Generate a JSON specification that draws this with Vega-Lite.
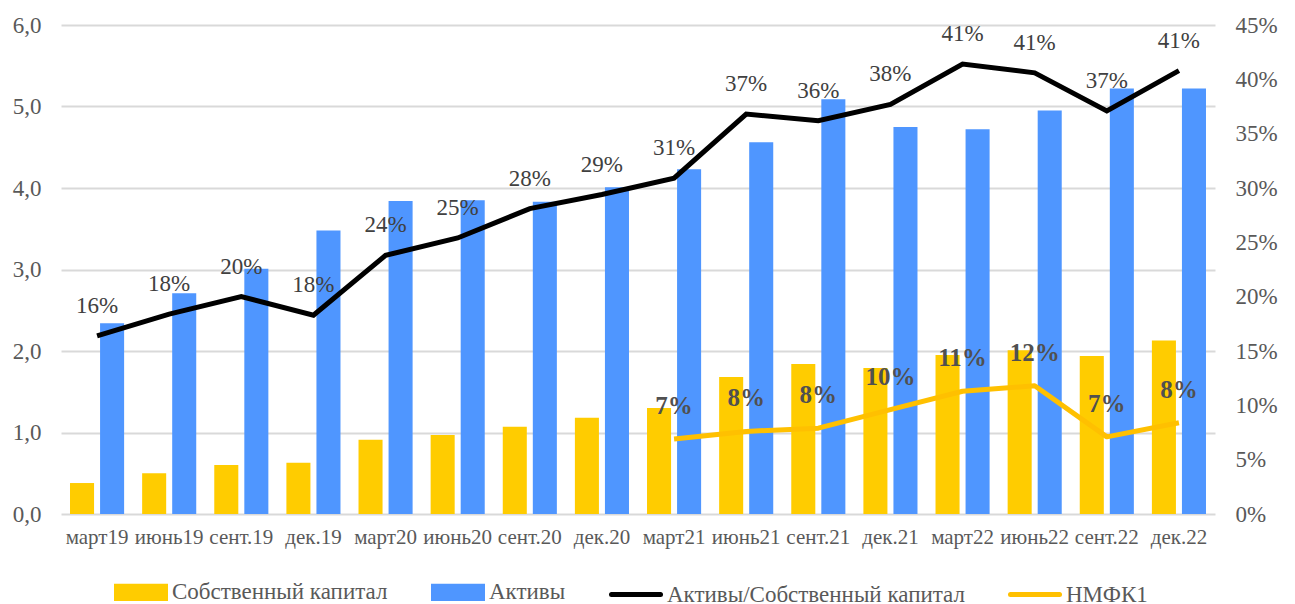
{
  "$schema": "https://vega.github.io/schema/vega-lite/v6.json",
  "width": 1154,
  "height": 489,
  "autosize": "none",
  "padding": {"left": 61, "top": 25, "right": 80, "bottom": 90},
  "config": {
    "font": "Liberation Serif, Times New Roman, DejaVu Serif, serif",
    "view": {"stroke": null},
    "text": {"font": "Liberation Serif, Times New Roman, DejaVu Serif, serif"},
    "axis": {"labelColor": "#595959", "labelFont": "Liberation Serif, Times New Roman, DejaVu Serif, serif", "ticks": false, "domain": false, "title": null},
    "legend": {"labelFont": "Liberation Serif, Times New Roman, DejaVu Serif, serif"}
  },
  "datasets": {
    "bars": [
      {"period": "март19", "series": "Собственный капитал", "value": 0.38},
      {"period": "март19", "series": "Активы", "value": 2.34},
      {"period": "июнь19", "series": "Собственный капитал", "value": 0.50},
      {"period": "июнь19", "series": "Активы", "value": 2.71},
      {"period": "сент.19", "series": "Собственный капитал", "value": 0.60},
      {"period": "сент.19", "series": "Активы", "value": 3.01},
      {"period": "дек.19", "series": "Собственный капитал", "value": 0.63},
      {"period": "дек.19", "series": "Активы", "value": 3.48},
      {"period": "март20", "series": "Собственный капитал", "value": 0.91},
      {"period": "март20", "series": "Активы", "value": 3.84},
      {"period": "июнь20", "series": "Собственный капитал", "value": 0.97},
      {"period": "июнь20", "series": "Активы", "value": 3.85},
      {"period": "сент.20", "series": "Собственный капитал", "value": 1.07},
      {"period": "сент.20", "series": "Активы", "value": 3.83},
      {"period": "дек.20", "series": "Собственный капитал", "value": 1.18},
      {"period": "дек.20", "series": "Активы", "value": 4.01},
      {"period": "март21", "series": "Собственный капитал", "value": 1.30},
      {"period": "март21", "series": "Активы", "value": 4.23},
      {"period": "июнь21", "series": "Собственный капитал", "value": 1.68},
      {"period": "июнь21", "series": "Активы", "value": 4.56},
      {"period": "сент.21", "series": "Собственный капитал", "value": 1.84},
      {"period": "сент.21", "series": "Активы", "value": 5.09},
      {"period": "дек.21", "series": "Собственный капитал", "value": 1.79},
      {"period": "дек.21", "series": "Активы", "value": 4.75},
      {"period": "март22", "series": "Собственный капитал", "value": 1.95},
      {"period": "март22", "series": "Активы", "value": 4.72},
      {"period": "июнь22", "series": "Собственный капитал", "value": 2.01},
      {"period": "июнь22", "series": "Активы", "value": 4.95},
      {"period": "сент.22", "series": "Собственный капитал", "value": 1.94},
      {"period": "сент.22", "series": "Активы", "value": 5.22},
      {"period": "дек.22", "series": "Собственный капитал", "value": 2.13},
      {"period": "дек.22", "series": "Активы", "value": 5.22}
    ],
    "ratio": [
      {"period": "март19", "series": "Активы/Собственный капитал", "value": 0.164},
      {"period": "июнь19", "series": "Активы/Собственный капитал", "value": 0.184},
      {"period": "сент.19", "series": "Активы/Собственный капитал", "value": 0.200},
      {"period": "дек.19", "series": "Активы/Собственный капитал", "value": 0.183},
      {"period": "март20", "series": "Активы/Собственный капитал", "value": 0.238},
      {"period": "июнь20", "series": "Активы/Собственный капитал", "value": 0.254},
      {"period": "сент.20", "series": "Активы/Собственный капитал", "value": 0.281},
      {"period": "дек.20", "series": "Активы/Собственный капитал", "value": 0.294},
      {"period": "март21", "series": "Активы/Собственный капитал", "value": 0.309},
      {"period": "июнь21", "series": "Активы/Собственный капитал", "value": 0.368},
      {"period": "сент.21", "series": "Активы/Собственный капитал", "value": 0.362},
      {"period": "дек.21", "series": "Активы/Собственный капитал", "value": 0.377},
      {"period": "март22", "series": "Активы/Собственный капитал", "value": 0.414},
      {"period": "июнь22", "series": "Активы/Собственный капитал", "value": 0.406},
      {"period": "сент.22", "series": "Активы/Собственный капитал", "value": 0.371},
      {"period": "дек.22", "series": "Активы/Собственный капитал", "value": 0.408}
    ],
    "nmfk": [
      {"period": "март21", "series": "НМФК1", "value": 0.069},
      {"period": "июнь21", "series": "НМФК1", "value": 0.076},
      {"period": "сент.21", "series": "НМФК1", "value": 0.079},
      {"period": "дек.21", "series": "НМФК1", "value": 0.096},
      {"period": "март22", "series": "НМФК1", "value": 0.113},
      {"period": "июнь22", "series": "НМФК1", "value": 0.118},
      {"period": "сент.22", "series": "НМФК1", "value": 0.071},
      {"period": "дек.22", "series": "НМФК1", "value": 0.084}
    ]
  },
  "encoding": {
    "x": {
      "field": "period",
      "type": "nominal",
      "scale": {
        "domain": ["март19","июнь19","сент.19","дек.19","март20","июнь20","сент.20","дек.20","март21","июнь21","сент.21","дек.21","март22","июнь22","сент.22","дек.22"],
        "paddingInner": 0.25,
        "paddingOuter": 0.125
      },
      "axis": {"labelAngle": 0, "labelFontSize": 21, "labelPadding": 12, "labelOverlap": false, "grid": false}
    },
    "color": {
      "field": "series",
      "type": "nominal",
      "scale": {
        "domain": ["Собственный капитал", "Активы", "Активы/Собственный капитал", "НМФК1"],
        "range": ["#FFCC00", "#4F96FF", "#000000", "#FFC000"]
      },
      "legend": {
        "title": null,
        "orient": "none",
        "legendX": 53,
        "legendY": 540,
        "direction": "horizontal",
        "columns": 4,
        "padding": 0,
        "columnPadding": 35,
        "labelOffset": 4,
        "labelFontSize": 23,
        "labelColor": "#595959",
        "labelLimit": 400,
        "symbolSize": 2401,
        "symbolStrokeWidth": 5,
        "symbolOpacity": 1,
        "encode": {
          "symbols": {
            "update": {
              "size": {"value": 2401},
              "strokeWidth": {"value": 5},
              "shape": {"signal": "(datum.value === 'Собственный капитал' || datum.value === 'Активы') ? 'M-1,-0.25H1V0.25H-1Z' : 'stroke'"},
              "fill": {"signal": "(datum.value === 'Собственный капитал' || datum.value === 'Активы') ? scale('color', datum.value) : 'transparent'"},
              "stroke": {"signal": "(datum.value === 'Собственный капитал' || datum.value === 'Активы') ? 'transparent' : scale('color', datum.value)"},
              "strokeCap": {"value": "round"},
              "opacity": {"value": 1}
            }
          }
        }
      }
    }
  },
  "layer": [
    {
      "data": {"name": "bars"},
      "mark": {"type": "bar"},
      "encoding": {
        "xOffset": {
          "field": "series",
          "type": "nominal",
          "scale": {"domain": ["Собственный капитал", "Активы"], "paddingInner": 0.2, "paddingOuter": 0}
        },
        "y": {
          "field": "value",
          "type": "quantitative",
          "scale": {"domain": [0, 6], "nice": false},
          "axis": {
            "orient": "left",
            "values": [0, 1, 2, 3, 4, 5, 6],
            "labelExpr": "replace(format(datum.value, '.1f'), '.', ',')",
            "labelFontSize": 23,
            "labelPadding": 20,
            "grid": true,
            "gridColor": "#D9D9D9",
            "gridWidth": 2
          }
        }
      }
    },
    {
      "layer": [
        {
          "data": {"name": "ratio"},
          "mark": {"type": "line", "strokeWidth": 5, "strokeJoin": "miter"},
          "encoding": {
            "y": {
              "field": "value",
              "type": "quantitative",
              "scale": {"domain": [0, 0.45], "nice": false},
              "axis": {
                "orient": "right",
                "values": [0, 0.05, 0.1, 0.15, 0.2, 0.25, 0.3, 0.35, 0.4, 0.45],
                "format": ".0%",
                "labelFontSize": 23,
                "labelPadding": 20,
                "grid": false
              }
            }
          }
        },
        {
          "data": {"name": "nmfk"},
          "mark": {"type": "line", "strokeWidth": 5, "strokeJoin": "round"},
          "encoding": {
            "y": {"field": "value", "type": "quantitative"}
          }
        },
        {
          "data": {"name": "ratio"},
          "mark": {"type": "text", "dy": -30, "fontSize": 23},
          "encoding": {
            "y": {"field": "value", "type": "quantitative"},
            "text": {"field": "value", "type": "quantitative", "format": ".0%"},
            "color": {"value": "#404040"}
          }
        },
        {
          "data": {"name": "nmfk"},
          "mark": {"type": "text", "dy": -33, "fontSize": 25, "fontWeight": "bold"},
          "encoding": {
            "y": {"field": "value", "type": "quantitative"},
            "text": {"field": "value", "type": "quantitative", "format": ".0%"},
            "color": {"value": "#505050"}
          }
        }
      ]
    }
  ],
  "resolve": {"scale": {"y": "independent"}}
}
